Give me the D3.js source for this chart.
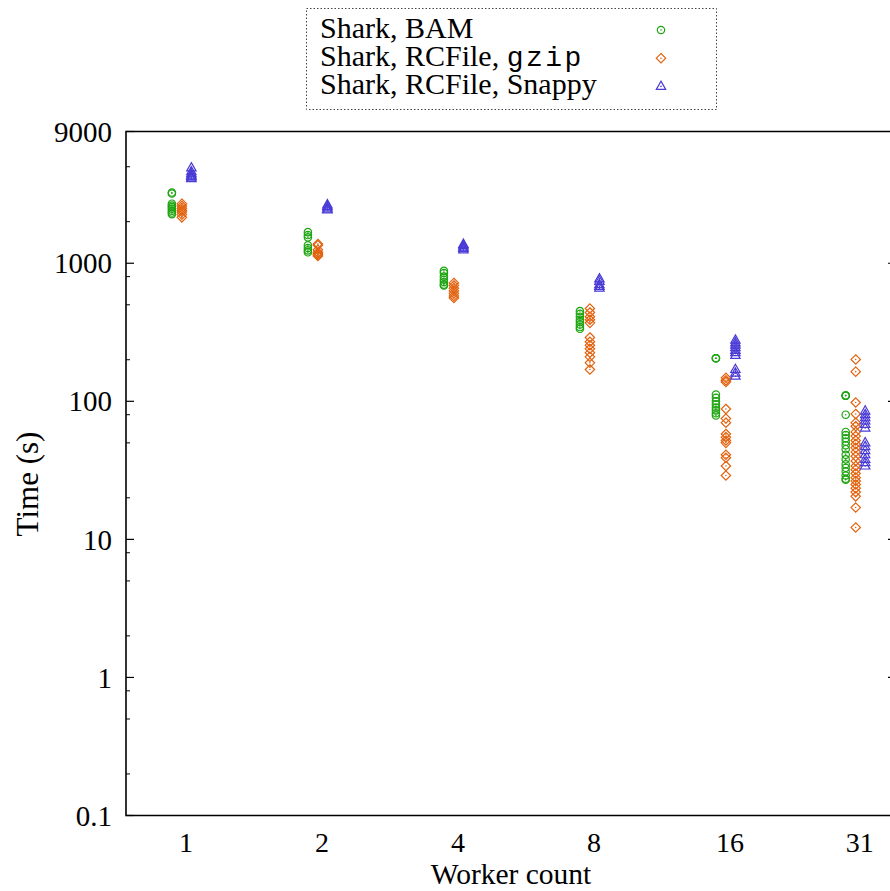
<!DOCTYPE html>
<html>
<head>
<meta charset="utf-8">
<script src="https://cdn.jsdelivr.net/npm/d3@7"></script>
<style>
  body { margin: 0; background: #fff; }
  svg { display: block; font-family: "Liberation Serif", "DejaVu Serif", serif; }
</style>
</head>
<body>
<div id="chart"></div>
<script>
// worker counts on the x axis
const workers = [1, 2, 4, 8, 16, 31];

// run times (s), one list per worker count
const bamTimes = [
  [3250, 3200, 2700, 2620, 2550, 2480, 2400, 2330, 2270],
  [1680, 1600, 1540, 1350, 1290, 1240, 1200],
  [880, 850, 800, 760, 730, 700, 690],
  [450, 430, 410, 390, 375, 360, 345, 335],
  [205, 205, 205, 112, 106, 100, 95, 90, 86, 82, 79],
  [110, 110, 110, 80, 60, 57, 54, 51, 48, 45, 41, 38, 35, 33, 31, 29, 27.5, 27]
];
const gzipTimes = [
  [2700, 2600, 2500, 2420, 2350, 2250, 2150],
  [1380, 1350, 1250, 1200, 1170, 1150, 1130],
  [720, 690, 660, 630, 605, 580, 560],
  [470, 440, 410, 390, 370, 290, 270, 255, 240, 225, 210, 190, 170],
  [148, 142, 138, 88, 75, 70, 58, 55, 52, 50, 41, 39, 34, 29],
  [201, 164, 98, 81, 70, 66, 60, 56, 52, 49, 46, 43, 40, 37, 34, 32, 30, 28, 26.5, 25, 23.5, 22, 20.5, 17, 12.2]
];
const snappyTimes = [
  [4900, 4600, 4450, 4350, 4250, 4150, 4100],
  [2650, 2580, 2520, 2470, 2430],
  [1370, 1340, 1310, 1280, 1250],
  [770, 740, 700, 680, 660],
  [277, 265, 255, 245, 234, 225, 215, 170, 160, 152],
  [85, 80, 76, 72, 68, 64, 50, 47, 44, 41, 38, 36, 34]
];

const seriesNames = ["Shark, BAM", "Shark, RCFile, ", "Shark, RCFile, Snappy"];
const yTickValues = [0.1, 1, 10, 100, 1000, 9000];
const yMinorValues = [0.2, 0.5, 0.8, 2, 5, 8, 20, 50, 80, 200, 500, 800, 2000, 5000];

const width = 890, height = 891;
const plotLeft = 126, plotTop = 131.5, plotRight = 896, plotBottom = 815.5;

const x = d3.scaleLog().base(2).domain([0.737, 37.3]).range([plotLeft, plotRight]);
const y = d3.scaleLog().domain([0.1, 9000]).range([plotBottom, plotTop]);

const svg = d3.select("#chart").append("svg")
  .attr("width", width)
  .attr("height", height);

// marker shapes, gnuplot style with a centre dot
const shapes = {
  circle: "M3.7,0A3.7,3.7 0 1,1 -3.7,0A3.7,3.7 0 1,1 3.7,0Z",
  diamond: "M0,-4.7L4.7,0L0,4.7L-4.7,0Z",
  triangle: "M0,-5.3L4.7,3L-4.7,3Z"
};

const series = [
  { name: seriesNames[0], data: bamTimes, color: "#1fa512", shape: "circle", dx: -14 },
  { name: seriesNames[1], data: gzipTimes, color: "#e2620e", shape: "diamond", dx: -4 },
  { name: seriesNames[2], data: snappyTimes, color: "#4a3bd6", shape: "triangle", dx: 5.5 }
];

function addMarker(g, s) {
  g.append("path")
    .attr("d", shapes[s.shape])
    .attr("fill", "none")
    .attr("stroke", s.color)
    .attr("stroke-width", 1.2);
  g.append("circle")
    .attr("r", 0.8)
    .attr("fill", s.color);
}

// frame
svg.append("path")
  .attr("d", `M${plotRight},${plotTop}H${plotLeft}V${plotBottom}H${plotRight}`)
  .attr("fill", "none")
  .attr("stroke", "#000")
  .attr("stroke-width", 1.6);
svg.append("line")
  .attr("x1", plotRight).attr("x2", plotRight)
  .attr("y1", plotTop).attr("y2", plotBottom)
  .attr("stroke", "#000").attr("stroke-width", 1.6);

// y ticks (inward, mirrored on the right)
svg.append("g").selectAll("line")
  .data(yTickValues)
  .join("line")
  .attr("x1", plotLeft).attr("x2", plotLeft + 8)
  .attr("y1", d => y(d)).attr("y2", d => y(d))
  .attr("stroke", "#000").attr("stroke-width", 1.2);
svg.append("g").selectAll("line")
  .data(yTickValues)
  .join("line")
  .attr("x1", plotRight - 8).attr("x2", plotRight)
  .attr("y1", d => y(d)).attr("y2", d => y(d))
  .attr("stroke", "#000").attr("stroke-width", 1.2);
svg.append("g").selectAll("line")
  .data(yMinorValues)
  .join("line")
  .attr("x1", plotLeft).attr("x2", plotLeft + 4)
  .attr("y1", d => y(d)).attr("y2", d => y(d))
  .attr("stroke", "#000").attr("stroke-width", 1);

svg.append("g").selectAll("text")
  .data(yTickValues)
  .join("text")
  .attr("x", 112)
  .attr("y", d => y(d))
  .attr("dy", "0.35em")
  .attr("text-anchor", "end")
  .attr("font-size", 29)
  .text(d => d);

// x tick labels
svg.append("g").selectAll("text")
  .data(workers)
  .join("text")
  .attr("x", d => x(d))
  .attr("y", 852)
  .attr("text-anchor", "middle")
  .attr("font-size", 28)
  .text(d => d);

// axis titles
svg.append("text")
  .attr("x", 511)
  .attr("y", 884)
  .attr("text-anchor", "middle")
  .attr("font-size", 29.5)
  .text("Worker count");
svg.append("text")
  .attr("transform", "translate(38,484) rotate(-90)")
  .attr("text-anchor", "middle")
  .attr("font-size", 31)
  .text("Time (s)");

// points
series.forEach(s => {
  const pts = [];
  s.data.forEach((vals, i) => vals.forEach(v => pts.push({ w: workers[i], v })));
  svg.append("g").selectAll("g")
    .data(pts)
    .join("g")
    .attr("transform", d => `translate(${x(d.w) + s.dx},${y(d.v)})`)
    .each(function() { addMarker(d3.select(this), s); });
});

// legend
const legend = svg.append("g");
legend.append("rect")
  .attr("x", 306.5).attr("y", 8.5)
  .attr("width", 410).attr("height", 101)
  .attr("fill", "#fff")
  .attr("stroke", "#444")
  .attr("stroke-width", 1)
  .attr("stroke-dasharray", "1.5,2");

series.forEach((s, i) => {
  const ly = 38 + i * 28.2;
  const t = legend.append("text")
    .attr("x", 320)
    .attr("y", ly)
    .attr("font-size", 30)
    .text(s.name);
  if (i === 1) {
    t.append("tspan")
      .attr("font-family", "Liberation Mono, DejaVu Sans Mono, monospace")
      .attr("font-size", 28)
      .attr("letter-spacing", 2.5)
      .text("gzip");
  }
  const m = legend.append("g").attr("transform", `translate(661,${ly - 8})`);
  addMarker(m, s);
});
</script>
</body>
</html>
